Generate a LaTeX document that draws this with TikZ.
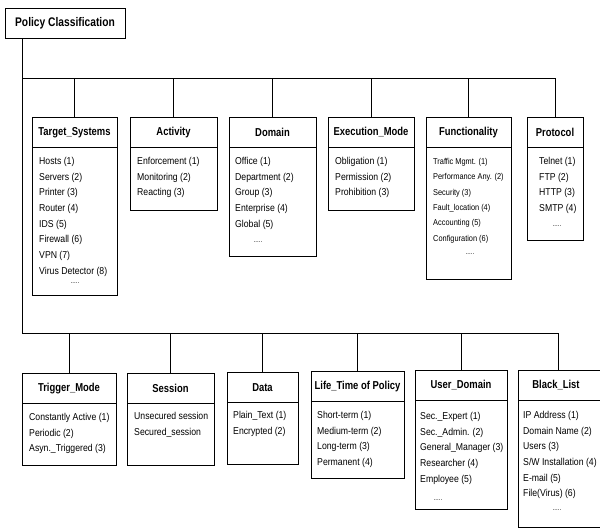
\documentclass[tikz,border=0pt]{standalone}
\usepackage{fontspec}
\setmainfont{Liberation Sans}[FakeStretch=0.87]
\newfontfamily\headfont{Liberation Sans}[FakeStretch=0.82]

\tikzset{
  pcline/.style={line width=0.9pt, black},
  pcframe/.style={draw, pcline, inner sep=0pt, outer sep=0pt},
  pctitle/.style={inner sep=0pt, font=\headfont\bfseries\fontsize{11.5}{13}\selectfont},
  pclist/.style={inner sep=0pt, align=left, font=\fontsize{10}{15.7}\selectfont},
  pcsmall/.style={font=\fontsize{8.5}{15.4}\selectfont},
  pcdots/.style={inner sep=0pt, font=\fontsize{7}{8}\selectfont},
}

% \pcbox{name}{x}{y}{width}{height}{title}{items}{list options}
\newcommand{\pcbox}[8]{%
  \node[pcframe, minimum width=#4pt, minimum height=#5pt, anchor=north west] (#1) at (#2,#3) {};
  \draw[pcline] ([yshift=-30.5pt]#1.north west) -- ([yshift=-30.5pt]#1.north east);
  \node[pctitle] (#1-title) at ([yshift=-15.5pt]#1.north) {#6};
  \node[pclist, anchor=north west, #8] (#1-list) at (#1.north west) {#7};
}

\begin{document}
\begin{tikzpicture}[x=1pt, y=-1pt]
  \useasboundingbox (0,0) rectangle (600,531);
  \clip (0,0) rectangle (600,531);

  % root
  \node[pcframe, minimum width=120pt, minimum height=30pt, anchor=north west,
        font=\headfont\bfseries\fontsize{12.5}{14}\selectfont] (root) at (5,8) {Policy Classification};

  % upper row of categories
  \pcbox{ts}{32}{117}{85}{178}{Target\_Systems}
    {Hosts (1)\\Servers (2)\\Printer (3)\\Router (4)\\IDS (5)\\Firewall (6)\\VPN (7)\\Virus Detector (8)}
    {xshift=7pt, yshift=-40pt}
  \pcbox{act}{130}{117}{87}{93}{Activity}
    {Enforcement (1)\\Monitoring (2)\\Reacting (3)}
    {xshift=7pt, yshift=-40pt}
  \pcbox{dom}{229}{117}{87}{139}{Domain}
    {Office (1)\\Department (2)\\Group (3)\\Enterprise (4)\\Global (5)}
    {xshift=6pt, yshift=-40pt}
  \pcbox{exe}{328}{117}{86}{93}{Execution\_Mode}
    {Obligation (1)\\Permission (2)\\Prohibition (3)}
    {xshift=7pt, yshift=-40pt}
  \pcbox{fun}{426}{117}{85}{162}{Functionality}
    {Traffic Mgmt. (1)\\Performance Any. (2)\\Security (3)\\Fault\_location (4)\\Accounting (5)\\Configuration (6)}
    {pcsmall, xshift=7pt, yshift=-41pt}
  \pcbox{pro}{527}{117}{56}{123}{Protocol}
    {Telnet (1)\\FTP (2)\\HTTP (3)\\SMTP (4)}
    {xshift=12pt, yshift=-40pt}

  % lower row of categories
  \pcbox{tm}{22}{373}{94}{92}{Trigger\_Mode}
    {Constantly Active (1)\\Periodic (2)\\Asyn.\_Triggered (3)}
    {xshift=7pt, yshift=-40pt}
  \pcbox{ses}{127}{373}{87}{92}{Session}
    {Unsecured session\\Secured\_session}
    {xshift=7pt, yshift=-39pt}
  \pcbox{dat}{227}{372}{71}{92}{Data}
    {Plain\_Text (1)\\Encrypted (2)}
    {xshift=6pt, yshift=-39pt}
  \pcbox{lt}{311}{371}{93}{107}{Life\_Time of Policy}
    {Short-term (1)\\Medium-term (2)\\Long-term (3)\\Permanent (4)}
    {xshift=6pt, yshift=-40pt}
  \pcbox{ud}{415}{370}{92}{139}{User\_Domain}
    {Sec.\_Expert (1)\\Sec.\_Admin. (2)\\General\_Manager (3)\\Researcher (4)\\Employee (5)}
    {xshift=5pt, yshift=-42pt}

  % Black_List runs past the right edge
  \node[pcframe, minimum width=95pt, minimum height=157pt, anchor=north west] (bl) at (518,370) {};
  \draw[pcline] ([yshift=-30.5pt]bl.north west) -- ([yshift=-30.5pt]bl.north east);
  \node[pctitle] (bl-title) at (556,385.5) {Black\_List};
  \node[pclist, anchor=north west, xshift=5pt, yshift=-41pt] (bl-list) at (bl.north west)
    {IP Address (1)\\Domain Name (2)\\Users (3)\\S/W Installation (4)\\E-mail (5)\\File(Virus) (6)};

  % continuation marks
  \node[pcdots] (ts-more)  at (75,283)  {.....};
  \node[pcdots] (dom-more) at (258,242) {.....};
  \node[pcdots] (fun-more) at (470,254) {.....};
  \node[pcdots] (pro-more) at (557,226) {.....};
  \node[pcdots] (ud-more)  at (438,500) {.....};
  \node[pcdots] (bl-more)  at (557,510) {.....};

  % connectors
  \coordinate (busA) at (22,78);
  \coordinate (busB) at (22,333);
  \coordinate (blin) at (558,370);
  \draw[pcline] (root.south -| busA) -- (busB);
  \draw[pcline] (busA) -- (busA -| pro.north) -- (pro.north);
  \foreach \b in {ts,act,dom,exe,fun}
    \draw[pcline] (busA -| \b.north) -- (\b.north);
  \draw[pcline] (busB) -- (busB -| blin) -- (blin);
  \foreach \b in {tm,ses,dat,lt,ud}
    \draw[pcline] (busB -| \b.north) -- (\b.north);
\end{tikzpicture}
\end{document}
